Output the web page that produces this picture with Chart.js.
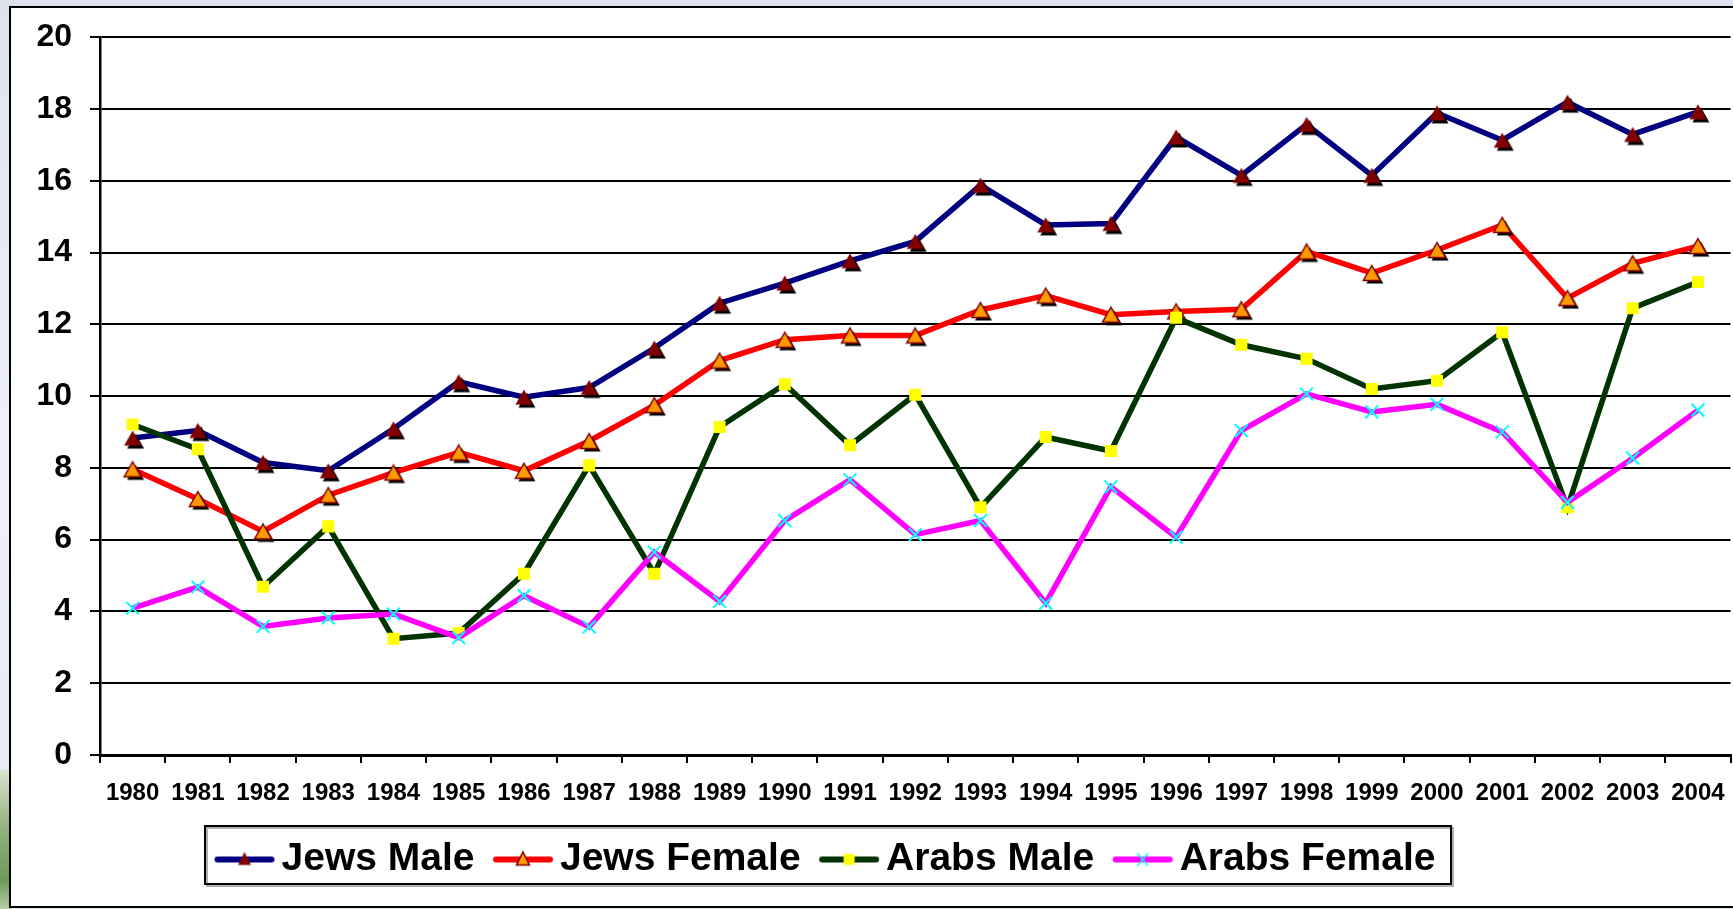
<!DOCTYPE html>
<html lang="en">
<head>
<meta charset="UTF-8">
<title>Jews and Arabs 1980-2004</title>
<script src="https://cdn.jsdelivr.net/npm/chart.js"></script>
<style>
    html, body { margin: 0; padding: 0; width: 1733px; height: 909px; overflow: hidden; }
    body {
        position: relative;
        background: linear-gradient(180deg, #dde2ee 0%, #eef1f7 50%, #e4e8f1 100%);
    }
    .leaf {
        position: absolute; left: 0; top: 770px; width: 12px; height: 139px;
        background: linear-gradient(180deg, #d8e2d0, #8fae78 45%, #6d9a5a 80%, #b9cfa9);
    }
    .panel {
        position: absolute; left: 9px; top: 6px; width: 1760px; height: 902px;
        box-sizing: border-box; background: #fff; border: 2px solid #000;
    }
    .chart-box { position: absolute; left: 0; top: 0; width: 1745px; height: 909px; }
</style>
</head>
<body>
<div class="leaf"></div>
<div class="panel"></div>
<div class="chart-box"><canvas id="chart"></canvas></div>
<script>
    const years = ['1980', '1981', '1982', '1983', '1984', '1985', '1986', '1987', '1988', '1989',
        '1990', '1991', '1992', '1993', '1994', '1995', '1996', '1997', '1998', '1999',
        '2000', '2001', '2002', '2003', '2004'];
    const seriesNames = ['Jews Male', 'Jews Female', 'Arabs Male', 'Arabs Female'];
    const jewsMale = [8.83, 9.04, 8.15, 7.92, 9.09, 10.4, 9.97, 10.24, 11.34, 12.59,
        13.15, 13.77, 14.31, 15.88, 14.77, 14.81, 17.22, 16.15, 17.57, 16.15,
        17.89, 17.13, 18.19, 17.29, 17.92];
    const jewsFemale = [7.96, 7.13, 6.23, 7.24, 7.87, 8.43, 7.92, 8.75, 9.75, 10.99,
        11.57, 11.69, 11.69, 12.4, 12.8, 12.27, 12.36, 12.42, 14.03, 13.43,
        14.07, 14.77, 12.73, 13.7, 14.18];
    const arabsMale = [9.21, 8.52, 4.69, 6.37, 3.24, 3.4, 5.05, 8.07, 5.05, 9.14,
        10.33, 8.63, 10.04, 6.9, 8.86, 8.47, 12.18, 11.43, 11.04, 10.2,
        10.43, 11.78, 6.9, 12.45, 13.18];
    const arabsFemale = [4.09, 4.68, 3.58, 3.82, 3.93, 3.27, 4.44, 3.57, 5.65, 4.28,
        6.53, 7.67, 6.14, 6.53, 4.23, 7.47, 6.07, 9.04, 10.06, 9.56,
        9.77, 9.0, 7.04, 8.27, 9.61];
    const yTicks = { min: 0, max: 20, step: 2 };

    const FONT = "'Liberation Sans', Arial, sans-serif";

    // little helpers for the Excel-like markers
    function triangle(g, x, y, w, h, fill, stroke) {
        g.beginPath();
        g.moveTo(x, y - h / 2);
        g.lineTo(x + w / 2, y + h / 2);
        g.lineTo(x - w / 2, y + h / 2);
        g.closePath();
        g.fillStyle = fill;
        g.fill();
        if (stroke) {
            g.lineWidth = 1.5;
            g.strokeStyle = stroke;
            g.stroke();
        }
    }

    function triangleMarker(fill, stroke) {
        const c = document.createElement('canvas');
        c.width = 30;
        c.height = 30;
        const g = c.getContext('2d');
        triangle(g, 18, 18, 17, 15, '#000');   // shadow
        triangle(g, 15, 15, 17, 15, fill, stroke);
        return c;
    }

    function legendIcon(lineColor, marker) {
        const c = document.createElement('canvas');
        c.width = 62;
        c.height = 22;
        const g = c.getContext('2d');
        g.strokeStyle = lineColor;
        g.lineWidth = 6;
        g.lineCap = 'round';
        g.beginPath();
        g.moveTo(4, 11);
        g.lineTo(58, 11);
        g.stroke();
        marker(g, 31, 11);
        return c;
    }

    const icons = [
        legendIcon('#000080', (g, x, y) => triangle(g, x, y - 1, 13, 13, '#800000')),
        legendIcon('#ff0000', (g, x, y) => triangle(g, x, y - 1, 13, 13, '#ff9900', '#800000')),
        legendIcon('#003300', (g, x, y) => { g.fillStyle = '#ffff00'; g.fillRect(x - 5.5, y - 5.5, 11, 11); }),
        legendIcon('#ff00ff', (g, x, y) => {
            g.strokeStyle = '#00ffff';
            g.lineWidth = 1.5;
            g.beginPath();
            g.moveTo(x - 5, y - 6); g.lineTo(x + 5, y + 6);
            g.moveTo(x + 5, y - 6); g.lineTo(x - 5, y + 6);
            g.stroke();
        })
    ];

    // shift the legend and draw the frame round it
    const legendFrame = {
        id: 'legendFrame',
        afterLayout(chart) {
            chart.legend.left = 196;
            chart.legend.right = 1470;
        },
        afterDraw(chart) {
            const ctx = chart.ctx;
            ctx.save();
            ctx.strokeStyle = '#b0b0b0';
            ctx.lineWidth = 2;
            ctx.strokeRect(207, 828, 1246, 58);
            ctx.strokeStyle = '#000';
            ctx.strokeRect(205, 826, 1246, 58);
            ctx.restore();
        }
    };

    new Chart(document.getElementById('chart'), {
        type: 'line',
        data: {
            labels: years,
            datasets: [
                {
                    label: seriesNames[0],
                    data: jewsMale,
                    borderColor: '#000080',
                    borderWidth: 5.5,
                    pointStyle: triangleMarker('#800000'),
                    pointRadius: 9,
                    order: 4
                },
                {
                    label: seriesNames[1],
                    data: jewsFemale,
                    borderColor: '#ff0000',
                    borderWidth: 5.5,
                    pointStyle: triangleMarker('#ff9900', '#800000'),
                    pointRadius: 9,
                    order: 3
                },
                {
                    label: seriesNames[2],
                    data: arabsMale,
                    borderColor: '#003300',
                    borderWidth: 5.5,
                    pointStyle: 'rect',
                    pointRadius: 8.5,
                    pointBackgroundColor: '#ffff00',
                    pointBorderWidth: 0,
                    order: 2
                },
                {
                    label: seriesNames[3],
                    data: arabsFemale,
                    borderColor: '#ff00ff',
                    borderWidth: 5.5,
                    pointStyle: 'crossRot',
                    pointRadius: 9,
                    pointBorderColor: '#00ffff',
                    pointBorderWidth: 2,
                    order: 1
                }
            ]
        },
        options: {
            responsive: true,
            maintainAspectRatio: false,
            animation: false,
            layout: { padding: { top: 35, right: 8, bottom: 20, left: 0 } },
            plugins: {
                tooltip: { enabled: false },
                legend: {
                    position: 'bottom',
                    align: 'start',
                    labels: {
                        usePointStyle: true,
                        pointStyleWidth: 35,
                        padding: 31,
                        color: '#000',
                        font: { family: FONT, size: 39, weight: 'bold' },
                        generateLabels: () => seriesNames.map((name, i) => ({
                            text: name,
                            pointStyle: icons[i],
                            fillStyle: 'transparent',
                            strokeStyle: 'transparent',
                            lineWidth: 0,
                            hidden: false,
                            datasetIndex: i
                        }))
                    }
                }
            },
            scales: {
                x: {
                    offset: true,
                    afterFit: (scale) => { scale.height = 54; },
                    grid: {
                        offset: true,
                        drawOnChartArea: false,
                        tickLength: 8,
                        color: '#000',
                        lineWidth: 2
                    },
                    border: { color: '#000', width: 3 },
                    ticks: {
                        color: '#000',
                        autoSkip: false,
                        maxRotation: 0,
                        padding: 16,
                        font: { family: FONT, size: 24, weight: 'bold' }
                    }
                },
                y: {
                    min: yTicks.min,
                    max: yTicks.max,
                    afterFit: (scale) => { scale.width = 100; },
                    grid: {
                        color: '#000',
                        lineWidth: 2,
                        tickLength: 10
                    },
                    border: { color: '#000', width: 2.5 },
                    ticks: {
                        stepSize: yTicks.step,
                        color: '#000',
                        padding: 18,
                        font: { family: FONT, size: 32, weight: 'bold' }
                    }
                }
            }
        },
        plugins: [legendFrame]
    });
</script>
</body>
</html>
